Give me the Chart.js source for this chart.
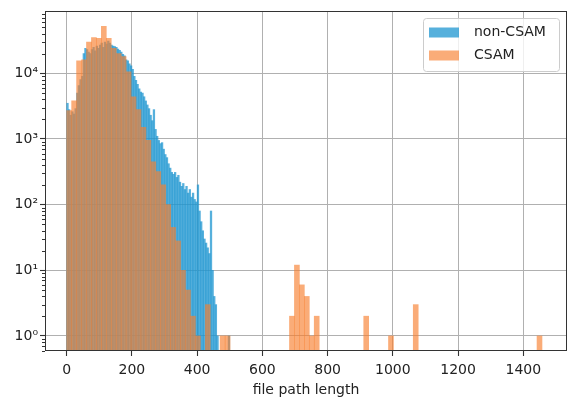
<!DOCTYPE html>
<html>
<head>
<meta charset="utf-8">
<script src="https://cdn.jsdelivr.net/npm/chart.js@4.4.0/dist/chart.umd.min.js"></script>
<style>
  html, body { margin: 0; padding: 0; background: #fff; }
  #wrap { width: 574px; height: 414px; }
</style>
</head>
<body>
<div id="wrap"><canvas id="hist"></canvas></div>
<script>
// histogram of file path length, two groups, log counts
var nonCsamBinWidth = 5
var nonCsamCounts = [
  3500, 2800, 2300, 2600, 2400, 2900, 5000, 6500, 8000, 9000,
  20000, 24000, 23000, 21000, 20000, 23000, 25000, 22000, 26000, 24000,
  27000, 29000, 25000, 30000, 28000, 31000, 29000, 27000, 26000, 25500,
  25000, 23500, 22500, 21000, 19500, 18500, 16000, 15500, 14000, 13000,
  11500, 9000, 7800, 6800, 5800, 5200, 5000, 4400, 3800, 3300,
  2900, 2300, 1900, 2800, 1400, 1100, 950, 850, 880, 700,
  580, 520, 420, 360, 310, 290, 310, 260, 280, 220,
  190, 210, 170, 190, 150, 170, 130, 150, 120, 110,
  200, 80, 55, 40, 30, 26, 22, 18, 80, 10,
  4, 3, 1, 0, 0, 0, 0, 0, 0, 1
]

var csamBinWidth = 15.18
var csamCounts = [
  2700, 3800, 15500, 16000, 30000, 35000, 34000, 52000, 34000, 24000,
  20000, 18000, 10500, 4400, 2800, 1500, 950, 450, 320, 200,
  100, 45, 28, 10, 5, 2, 1, 0, 3, 0,
  0, 1, 1, 0, 0, 0, 0, 0, 0, 0,
  0, 0, 0, 0, 0, 2, 12, 6, 4, 1,
  2, 0, 0, 0, 0, 0, 0, 0, 0, 0,
  2, 0, 0, 0, 0, 1, 0, 0, 0, 0,
  3, 0, 0, 0, 0, 0, 0, 0, 0, 0,
  0, 0, 0, 0, 0, 0, 0, 0, 0, 0,
  0, 0, 0, 0, 0, 1
]

var seriesNames = ["non-CSAM", "CSAM"]
var xTicks = [0, 200, 400, 600, 800, 1000, 1200, 1400]
var yTicks = [1, 10, 100, 1000, 10000]
var yTickLabels = ["10\u2070", "10\u00b9", "10\u00b2", "10\u00b3", "10\u2074"]

var blue = "rgba(30, 150, 208, 0.75)"
var orange = "rgba(248, 128, 48, 0.65)"
var font = "DejaVu Sans"
var ink = "#222"

function toBars(counts, width) {
    return counts.map(function (c, i) {
        return { x: (i + 0.5) * width, y: c > 0 ? c : null }
    })
}

// spines, minor log ticks
var framePlugin = {
    id: 'frame',
    afterDatasetsDraw: function (chart) {
        var ctx = chart.ctx, a = chart.chartArea, ys = chart.scales.y
        ctx.save()
        ctx.strokeStyle = "#333"
        ctx.lineWidth = 1
        ctx.strokeRect(a.left + 0.5, a.top + 0.5, a.width - 1, a.height - 1)
        ctx.beginPath()
        for (var p = -1; p <= 4; p++) {
            for (var m = 2; m <= 9; m++) {
                var v = m * Math.pow(10, p)
                if (v < ys.min || v > ys.max) continue
                var py = Math.round(ys.getPixelForValue(v)) + 0.5
                ctx.moveTo(a.left, py)
                ctx.lineTo(a.left - 3, py)
            }
        }
        ctx.stroke()
        ctx.restore()
    }
}

var legendPlugin = {
    id: 'boxLegend',
    afterDraw: function (chart) {
        var ctx = chart.ctx, a = chart.chartArea
        var w = 136, h = 53
        var bx = a.right - 8 - w, by = a.top + 7
        ctx.save()
        ctx.beginPath()
        ctx.roundRect(bx + 0.5, by + 0.5, w, h, 3)
        ctx.fillStyle = "rgba(255,255,255,0.8)"
        ctx.fill()
        ctx.strokeStyle = "#cccccc"
        ctx.lineWidth = 1
        ctx.stroke()
        var colors = [blue, orange]
        ctx.font = "14px '" + font + "'"
        ctx.textBaseline = "middle"
        for (var i = 0; i < seriesNames.length; i++) {
            var cy = by + 14.5 + i * 23
            ctx.fillStyle = colors[i]
            ctx.fillRect(bx + 6, cy - 5, 30, 10)
            ctx.fillStyle = ink
            ctx.fillText(seriesNames[i], bx + 51, cy)
        }
        ctx.restore()
    }
}

function xScale(extra) {
    return Object.assign({
        type: 'linear',
        min: -66.5,
        max: 1534,
        offset: false,
        afterBuildTicks: function (s) {
            s.ticks = xTicks.map(function (v) { return { value: v } })
        }
    }, extra)
}

// one bar per bin, no grouping between the two series
var barStyle = { barPercentage: 1, categoryPercentage: 1, borderWidth: 0, grouped: false }

new Chart("hist", {
    type: 'bar',
    data: {
        datasets: [
            Object.assign({
                label: seriesNames[0],
                data: toBars(nonCsamCounts, nonCsamBinWidth),
                xAxisID: 'x',
                backgroundColor: blue,
                order: 2
            }, barStyle),
            Object.assign({
                label: seriesNames[1],
                data: toBars(csamCounts, csamBinWidth),
                xAxisID: 'x2',
                backgroundColor: orange,
                order: 1
            }, barStyle)
        ]
    },
    options: {
        responsive: true,
        maintainAspectRatio: false,
        animation: false,
        events: [],
        layout: { padding: { left: 0, top: 11, right: 7, bottom: 0 } },
        plugins: {
            legend: { display: false },
            tooltip: { enabled: false }
        },
        scales: {
            x: xScale({
                position: 'bottom',
                afterFit: function (s) { s.height = 63 },
                border: { display: false },
                grid: { offset: false, color: "#b0b0b0", lineWidth: 1, tickLength: 5, tickColor: "#333", tickWidth: 1.1 },
                ticks: {
                    font: { family: font, size: 14 }, color: ink, padding: 5.6, maxRotation: 0, autoSkip: false,
                    callback: function (value) { return String(value) }
                },
                title: {
                    display: true,
                    text: "file path length",
                    font: { family: font, size: 14 },
                    color: ink,
                    padding: { top: 0, bottom: 15.6 }
                }
            }),
            x2: xScale({ display: false, grid: { offset: false } }),
            y: {
                type: 'logarithmic',
                min: 0.59,
                max: 89000,
                afterBuildTicks: function (s) {
                    s.ticks = yTicks.map(function (v) { return { value: v, major: true } })
                },
                afterFit: function (s) { s.width = 45 },
                border: { display: false },
                grid: { color: "#b0b0b0", lineWidth: 1, tickLength: 5, tickColor: "#333", tickWidth: 1.1 },
                ticks: {
                    font: { family: font, size: 14 },
                    color: ink,
                    padding: 2,
                    autoSkip: false,
                    callback: function (value) {
                        var i = yTicks.indexOf(value)
                        return i >= 0 ? yTickLabels[i] : ''
                    }
                }
            }
        }
    },
    plugins: [framePlugin, legendPlugin]
});
</script>
</body>
</html>
